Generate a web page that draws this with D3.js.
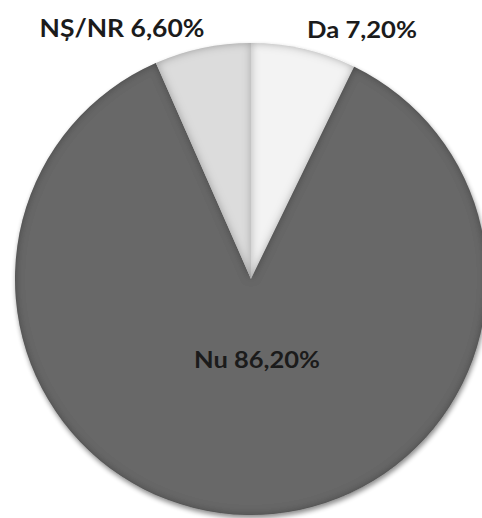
<!DOCTYPE html>
<html>
<head>
<meta charset="utf-8">
<script src="https://cdn.jsdelivr.net/npm/d3@7"></script>
<style>
  html, body { margin: 0; padding: 0; background: #fff; }
  svg { display: block; }
</style>
</head>
<body>
<div id="chart"></div>
<script>
// answers, in drawing order clockwise from 12 o'clock
var categories = ["Da", "Nu", "NȘ/NR"];
var values = [7.2, 86.2, 6.6];
var valueLabels = ["7,20%", "86,20%", "6,60%"];
var colors = ["#f3f3f3", "#676767", "#dcdcdc"];

var svgWidth = 482;
var svgHeight = 518;
var radius = 236;
var cx = 251, cy = 279;

var svg = d3.select("#chart")
  .append("svg")
  .attr("width", svgWidth)
  .attr("height", svgHeight);

var defs = svg.append("defs");

// soft shadow under the whole pie
var drop = defs.append("filter").attr("id", "drop")
  .attr("x", "-10%").attr("y", "-10%").attr("width", "120%").attr("height", "120%");
drop.append("feGaussianBlur").attr("in", "SourceAlpha").attr("stdDeviation", 2.5).attr("result", "b");
drop.append("feOffset").attr("in", "b").attr("dx", 1).attr("dy", 3).attr("result", "o");
drop.append("feComponentTransfer").attr("in", "o").attr("result", "s")
  .append("feFuncA").attr("type", "linear").attr("slope", 0.45);
var dm = drop.append("feMerge");
dm.append("feMergeNode").attr("in", "s");
dm.append("feMergeNode").attr("in", "SourceGraphic");

// bevel-ish inner shadow for each slice
var inner = defs.append("filter").attr("id", "inner")
  .attr("x", "-5%").attr("y", "-5%").attr("width", "110%").attr("height", "110%");
inner.append("feFlood").attr("flood-color", "#000").attr("flood-opacity", 0.6).attr("result", "f");
inner.append("feComposite").attr("in", "f").attr("in2", "SourceAlpha").attr("operator", "out").attr("result", "outside");
inner.append("feGaussianBlur").attr("in", "outside").attr("stdDeviation", 4.5).attr("result", "blur");
inner.append("feComposite").attr("in", "blur").attr("in2", "SourceAlpha").attr("operator", "in").attr("result", "sh");
var im = inner.append("feMerge");
im.append("feMergeNode").attr("in", "SourceGraphic");
im.append("feMergeNode").attr("in", "sh");

var data = categories.map(function(c, i) {
  return { name: c, value: values[i], label: valueLabels[i], color: colors[i] };
});

var pie = d3.pie().sort(null).value(function(d) { return d.value; });
var arc = d3.arc().innerRadius(0).outerRadius(radius);

var chartGroup = svg.append("g")
  .attr("transform", `translate(${cx}, ${cy})`);

var slices = chartGroup.append("g").attr("filter", "url(#drop)");

slices.selectAll("path")
  .data(pie(data))
  .enter()
  .append("path")
  .attr("d", arc)
  .attr("fill", function(d) { return d.data.color; })
  .attr("filter", "url(#inner)");

// labels: small slices sit above the pie, the big one inside
// [x, y, text width, font size]
var labelPos = {
  "Da": [362, 38, 110, 22],
  "Nu": [257, 368, 126, 22],
  "NȘ/NR": [122, 37, 165, 25]
};

chartGroup.append("g")
  .selectAll("text")
  .data(data)
  .enter()
  .append("text")
  .attr("x", function(d) { return labelPos[d.name][0] - cx; })
  .attr("y", function(d) { return labelPos[d.name][1] - cy; })
  .attr("text-anchor", "middle")
  .attr("textLength", function(d) { return labelPos[d.name][2]; })
  .attr("lengthAdjust", "spacingAndGlyphs")
  .attr("font-family", "Lato, 'Open Sans', sans-serif")
  .attr("font-weight", "bold")
  .attr("font-size", function(d) { return labelPos[d.name][3] + "px"; })
  .attr("fill", "#1b1b1b")
  .text(function(d) { return d.name + " " + d.label; });
</script>
</body>
</html>
